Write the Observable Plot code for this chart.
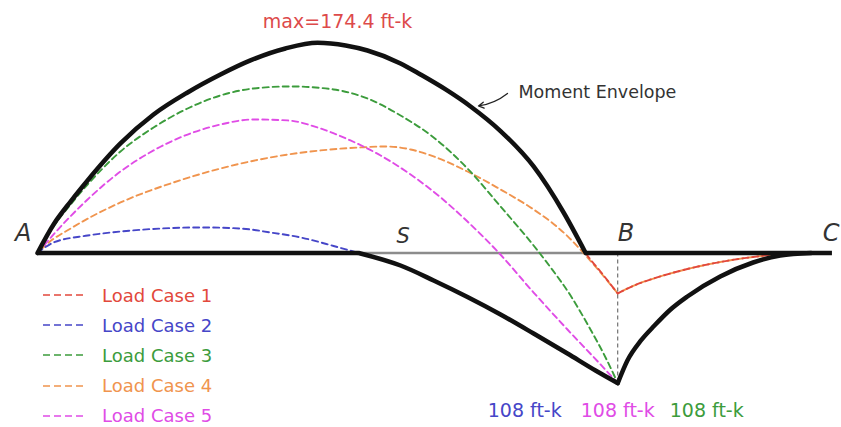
<!DOCTYPE html>
<html><head><meta charset="utf-8">
<script src="https://cdn.jsdelivr.net/npm/d3@7"></script>
<script src="https://cdn.jsdelivr.net/npm/@observablehq/plot@0.6"></script>
<style>
body{margin:0;background:#fff;}
#wrap{position:relative;width:841px;height:427px;overflow:hidden;font-family:"DejaVu Sans",sans-serif;background:#fff;}
#legend{position:absolute;left:43px;top:280px;}
.row{display:flex;align-items:center;height:30.2px;font-size:18px;white-space:nowrap;}
.row svg{margin-right:19px;}
</style></head><body>
<div id="wrap"><div id="chart"></div><div id="legend"></div></div>
<script>
// ---- data (x in ft from A, moment in ft-k) ----
const supports = ["A", "B", "C"];
const supportX = [0, 30, 41];
const caseNames = ["Load Case 1", "Load Case 2", "Load Case 3", "Load Case 4", "Load Case 5"];
const caseColors = ["#e2483c", "#4646c8", "#3c9c3c", "#f0944e", "#e04ce6"];

const envelopeTop = [[0,0],[0.83,23.7],[1.71,42.7],[2.59,60.2],[4.29,90.9],[6.0,114.9],[7.76,133.2],[9.46,148.1],[11.01,159.8],[12.82,169.7],[14.48,174.4],[15.93,172.2],[17.06,168.0],[18.77,157.3],[19.8,148.1],[21.1,135.7],[22.39,121.6],[23.94,101.2],[25.65,71.8],[27.2,33.6],[28.34,0]];
const envelopeBottomAB = [[16.6,0],[18.77,-10.4],[20.48,-22.8],[22.23,-36.5],[23.94,-51.0],[25.65,-66.8],[27.4,-83.4],[28.85,-97.5],[30,-108]];
const envelopeBottomBC = [[30,-108],[30.5,-89.2],[31.2,-72.6],[31.9,-60.2],[32.7,-47.3],[33.6,-36.1],[35.3,-19.5],[37.0,-7.9],[38.4,-2.1],[40.0,0]];

const case1AB = [...envelopeTop, [29.15,-16.2], [30,-33.6]];
const case1BC = [[30,-33.6],[30.9,-26.6],[31.85,-21.2],[33.6,-13.3],[35.3,-7.5],[37.0,-3.3],[38.2,-1.2],[39.5,0]];
const case2AB = [[0,0],[0.83,8.7],[2.59,14.5],[4.29,17.8],[6.36,20.3],[8.43,21.2],[10.5,20.3],[12.05,17.0],[13.6,12.9],[15.31,5.8], ...envelopeBottomAB];
const case2BC = envelopeBottomBC;
const case3AB = [[0,0],[0.83,22.0],[1.71,40.2],[2.59,56.8],[4.29,84.2],[6.0,104.1],[7.76,119.9],[9.46,130.7],[11.17,136.5],[13.08,138.2],[15.31,135.7],[17.06,128.2],[18.77,114.1],[20.48,95.9],[22.23,70.1],[23.94,38.6],[25.65,6.2],[26.53,-12.0],[27.56,-35.3],[28.59,-63.5],[29.37,-86.7],[30,-108]];
const case3BC = envelopeBottomBC;
const case4AB = [[0,0],[0.52,7.9],[1.71,20.3],[4.29,41.9],[6.88,57.7],[9.46,70.1],[12.05,79.3],[14.63,85.1],[16.7,87.6],[17.99,88.4],[19.29,85.9],[20.48,80.1],[22.23,67.6],[23.94,52.7],[25.65,36.1],[26.53,26.0],[27.4,14.0],[28.23,0],[29.11,-16.2],[30,-33.6]];
const case4BC = case1BC;
const case5AB = [[0,0],[0.83,15.4],[2.59,44.4],[4.29,67.6],[6.0,85.1],[7.76,98.3],[9.46,106.6],[11.17,110.8],[12.93,110.0],[14.63,103.3],[16.18,93.4],[17.74,80.9],[19.29,65.1],[20.84,46.1],[22.23,26.1],[23.79,1.2],[25.65,-32.8],[27.4,-63.5],[29.11,-92.5],[30,-108]];
const case5BC = envelopeBottomBC;

const bottomLabelCases = [1, 4, 2]; // blue, magenta, green

// ---- derived ----
const caseSegments = [
  [case1AB, case1BC], [case2AB, case2BC], [case3AB, case3BC], [case4AB, case4BC], [case5AB, case5BC]
];
const maxPt = envelopeTop.reduce((a, b) => (b[1] > a[1] ? b : a));
const minPt = envelopeBottomAB.reduce((a, b) => (b[1] < a[1] ? b : a));
const spanEnd = supportX[supportX.length - 1];
const zeroSegs = [
  {x1: 0, x2: envelopeBottomAB[0][0]},
  {x1: envelopeTop[envelopeTop.length - 1][0], x2: spanEnd + 0.1}
];

const dashMarks = [];
[3, 4, 2, 1, 0].forEach(i => {
  caseSegments[i].forEach(seg => {
    dashMarks.push(Plot.line(seg, {
      stroke: caseColors[i], strokeWidth: 1.9, strokeDasharray: "6,4",
      strokeDashoffset: i === 3 ? 5 : 0, curve: "monotone-x"
    }));
  });
});

const env = {stroke: "#111", strokeWidth: 4.5, curve: "monotone-x", strokeLinecap: "round", strokeLinejoin: "round"};
const labelFont = {fill: "#333", fontStyle: "italic", fontSize: 24};

const negText = `${Math.abs(minPt[1])} ft-k`;
const bottomDx = [-93, 0, 89];

const chart = Plot.plot({
  width: 841, height: 427, margin: 0,
  x: {domain: [0, spanEnd], range: [37, 830], axis: null},
  y: {domain: [-144.8, 209.5], range: [427, 0], axis: null},
  style: {fontFamily: "DejaVu Sans, sans-serif", background: "white", overflow: "hidden"},
  marks: [
    Plot.ruleY([0], {x1: 0, x2: spanEnd, stroke: "#8c8c8c", strokeWidth: 2.5}),
    ...dashMarks,
    Plot.ruleX([{x: supportX[1], y1: 0, y2: minPt[1]}], {x: "x", y1: "y1", y2: "y2", stroke: "#555", strokeWidth: 1, strokeDasharray: "4,3"}),
    Plot.ruleY(zeroSegs, {y: 0, x1: "x1", x2: "x2", stroke: "#111", strokeWidth: 4.5}),
    Plot.line(envelopeTop, env),
    Plot.line(envelopeBottomAB, env),
    Plot.line(envelopeBottomBC, env),
    // support labels
    Plot.text([0], {x: d => supportX[d], y: 0, text: d => supports[d], textAnchor: "end", dx: -6, dy: -20, ...labelFont}),
    Plot.text([1], {x: d => supportX[d], y: 0, text: d => supports[d], textAnchor: "start", dy: -20, ...labelFont}),
    Plot.text([2], {x: d => supportX[d], y: 0, text: d => supports[d], textAnchor: "end", dx: 9, dy: -20, ...labelFont}),
    Plot.text(["S"], {x: 18.9, y: 0, text: d => d, dy: -17, fill: "#333", fontStyle: "italic", fontSize: 21}),
    // max label
    Plot.text([maxPt], {x: d => d[0], y: d => d[1], text: d => `max=${d[1]} ft-k`, dx: 20, dy: -21, fill: "#dd4a4a", fontSize: 19}),
    // moment envelope annotation
    Plot.arrow([{x1: 24.3, y1: 132.4, x2: 22.8, y2: 122.0}], {x1: "x1", y1: "y1", x2: "x2", y2: "y2", bend: 15, headLength: 7, stroke: "#222", strokeWidth: 1.3}),
    Plot.text(["Moment Envelope"], {x: 24.87, y: 133.2, text: d => d, textAnchor: "start", fill: "#333", fontSize: 17.5}),
    // bottom negative labels
    ...bottomLabelCases.map((ci, k) => Plot.text([minPt], {
      x: d => d[0], y: d => d[1], text: () => negText, dx: bottomDx[k], dy: 28,
      fill: caseColors[ci], fontSize: 19
    }))
  ]
});
document.getElementById("chart").appendChild(chart);

// legend
const legend = d3.select("#legend");
caseNames.forEach((name, i) => {
  const row = legend.append("div").attr("class", "row").style("color", caseColors[i]);
  const s = row.append("svg").attr("width", 40).attr("height", 6);
  s.append("line").attr("x1", 0).attr("x2", 40).attr("y1", 3).attr("y2", 3)
    .attr("stroke", caseColors[i]).attr("stroke-width", 1.6).attr("stroke-dasharray", "7,4");
  row.append("span").text(name);
});
</script>
</body></html>
